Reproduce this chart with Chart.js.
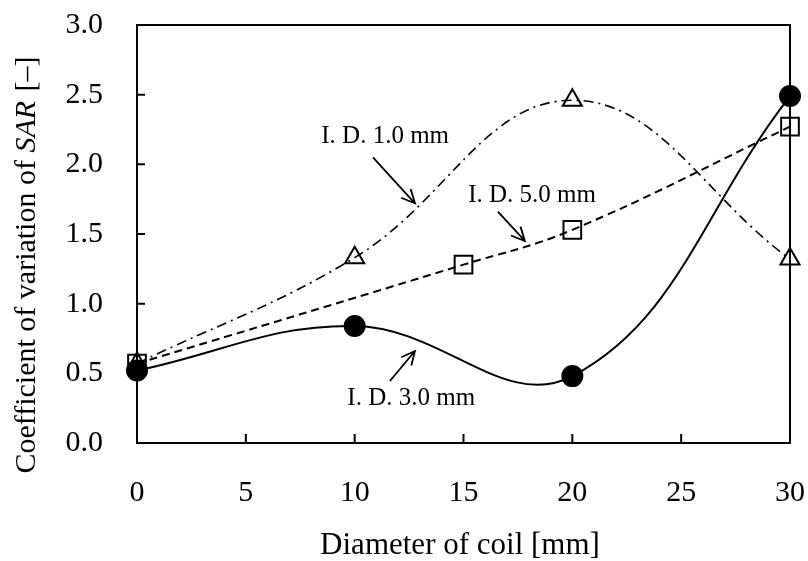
<!DOCTYPE html>
<html>
<head>
<meta charset="utf-8">
<script src="https://cdn.jsdelivr.net/npm/chart.js@4/dist/chart.umd.min.js"></script>
<style>
  body { margin: 0; background: #fff; }
</style>
</head>
<body>
<canvas id="myChart" width="808" height="561"></canvas>
<script>
// coil diameter [mm] and coefficient of variation of SAR, per inner diameter
const xId3 = [0, 10, 20, 30];
const yId3 = [0.52, 0.84, 0.48, 2.49];
const xId5 = [0, 15, 20, 30];
const yId5 = [0.57, 1.28, 1.53, 2.27];
const xId1 = [0, 10, 20, 30];
const yId1 = [0.57, 1.33, 2.46, 1.32];

const xTicks = [0, 5, 10, 15, 20, 25, 30];
const yTicks = [0, 0.5, 1.0, 1.5, 2.0, 2.5, 3.0];

// labels with arrows, in data units: [text, textX, textY, fromX, fromY, toX, toY]
const labels = [
  ['I. D. 1.0 mm', 11.4, 2.20, 10.84, 2.05, 12.77, 1.72],
  ['I. D. 5.0 mm', 18.15, 1.78, 16.58, 1.66, 17.82, 1.45],
  ['I. D. 3.0 mm', 12.6, 0.32, 11.62, 0.445, 12.77, 0.66]
];

const toPoints = (xs, ys) => {
  let pts = [];
  for (let i = 0; i < xs.length; i++) {
    pts.push({ x: xs[i], y: ys[i] });
  }
  return pts;
};

const FONT = "'Liberation Serif', 'Times New Roman', serif";

const drawArrow = (ctx, x1, y1, x2, y2) => {
  const ang = Math.atan2(y2 - y1, x2 - x1);
  const len = 15;
  ctx.beginPath();
  ctx.moveTo(x1, y1);
  ctx.lineTo(x2, y2);
  ctx.moveTo(x2 - len * Math.cos(ang - 0.45), y2 - len * Math.sin(ang - 0.45));
  ctx.lineTo(x2, y2);
  ctx.lineTo(x2 - len * Math.cos(ang + 0.45), y2 - len * Math.sin(ang + 0.45));
  ctx.stroke();
};

const decorations = {
  id: 'decorations',
  afterDraw(chart) {
    const ctx = chart.ctx;
    const a = chart.chartArea;
    const xs = chart.scales.x;
    const ys = chart.scales.y;
    ctx.save();
    ctx.strokeStyle = '#000';
    ctx.setLineDash([]);

    // frame
    ctx.lineWidth = 2;
    ctx.strokeRect(a.left, a.top, a.right - a.left, a.bottom - a.top);

    // inward tick marks
    ctx.beginPath();
    yTicks.forEach(v => {
      const py = ys.getPixelForValue(v);
      ctx.moveTo(a.left, py);
      ctx.lineTo(a.left + 8, py);
    });
    xTicks.forEach(v => {
      const px = xs.getPixelForValue(v);
      ctx.moveTo(px, a.bottom);
      ctx.lineTo(px, a.bottom - 9);
    });
    ctx.stroke();

    // annotations
    ctx.fillStyle = '#000';
    ctx.font = '25px ' + FONT;
    ctx.textAlign = 'center';
    ctx.textBaseline = 'middle';
    ctx.lineWidth = 1.8;
    labels.forEach(l => {
      ctx.fillText(l[0], xs.getPixelForValue(l[1]), ys.getPixelForValue(l[2]));
      drawArrow(ctx,
        xs.getPixelForValue(l[3]), ys.getPixelForValue(l[4]),
        xs.getPixelForValue(l[5]), ys.getPixelForValue(l[6]));
    });

    // x axis title
    ctx.font = '31px ' + FONT;
    ctx.fillText('Diameter of coil [mm]', 460, 546);

    // y axis title with italic SAR
    const p1 = 'Coefficient of variation of ';
    const p2 = 'SAR';
    const p3 = ' [\u2013]';
    ctx.translate(27, (a.top + a.bottom) / 2 + 32);
    ctx.rotate(-Math.PI / 2);
    ctx.textAlign = 'left';
    const f = '30px ' + FONT;
    const fi = 'italic 30px ' + FONT;
    ctx.font = f;
    const w1 = ctx.measureText(p1).width;
    const w3 = ctx.measureText(p3).width;
    ctx.font = fi;
    const w2 = ctx.measureText(p2).width;
    let x0 = -(w1 + w2 + w3) / 2;
    ctx.font = f;
    ctx.fillText(p1, x0, 0);
    ctx.font = fi;
    ctx.fillText(p2, x0 + w1, 0);
    ctx.font = f;
    ctx.fillText(p3, x0 + w1 + w2 + 2, 0);
    ctx.restore();
  }
};

var ctx = document.getElementById('myChart').getContext('2d');
var myChart = new Chart(ctx, {
  type: 'line',
  data: {
    datasets: [
      {
        label: 'I.D. 3.0 mm',
        data: toPoints(xId3, yId3),
        borderColor: '#000',
        borderWidth: 2,
        tension: 0.4,
        pointStyle: 'circle',
        pointRadius: 10,
        pointBackgroundColor: '#000',
        pointBorderColor: '#000',
        clip: false
      },
      {
        label: 'I.D. 5.0 mm',
        data: toPoints(xId5, yId5),
        borderColor: '#000',
        borderWidth: 2,
        borderDash: [8, 5],
        tension: 0.4,
        pointStyle: 'rect',
        pointRadius: 12.5,
        pointBorderWidth: 2,
        pointBackgroundColor: 'rgba(0,0,0,0)',
        pointBorderColor: '#000',
        clip: false
      },
      {
        label: 'I.D. 1.0 mm',
        data: toPoints(xId1, yId1),
        borderColor: '#000',
        borderWidth: 1.6,
        borderDash: [10, 5, 2, 5],
        tension: 0.4,
        pointStyle: 'triangle',
        pointRadius: 11,
        pointBorderWidth: 2,
        pointBackgroundColor: 'rgba(0,0,0,0)',
        pointBorderColor: '#000',
        clip: false
      }
    ]
  },
  options: {
    responsive: false,
    animation: false,
    layout: { padding: { top: 25, right: 18, left: 0, bottom: 0 } },
    plugins: {
      legend: { display: false },
      tooltip: { enabled: false }
    },
    scales: {
      x: {
        type: 'linear',
        min: 0,
        max: 30,
        grid: { display: false, drawTicks: false },
        border: { display: false },
        afterFit: (scale) => {
          scale.height = 118;
          scale.paddingLeft = 0;
          scale.paddingRight = 0;
        },
        afterBuildTicks: (scale) => { scale.ticks = xTicks.map(v => ({ value: v })); },
        ticks: {
          padding: 32,
          color: '#000',
          font: { family: FONT, size: 30 }
        }
      },
      y: {
        min: 0,
        max: 3,
        grid: { display: false, drawTicks: false },
        border: { display: false },
        afterFit: (scale) => {
          scale.width = 137;
          scale.paddingTop = 0;
          scale.paddingBottom = 0;
        },
        afterBuildTicks: (scale) => { scale.ticks = yTicks.map(v => ({ value: v })); },
        ticks: {
          padding: 34,
          color: '#000',
          font: { family: FONT, size: 30 },
          callback: (v) => Number(v).toFixed(1)
        }
      }
    }
  },
  plugins: [decorations]
});
</script>
</body>
</html>
